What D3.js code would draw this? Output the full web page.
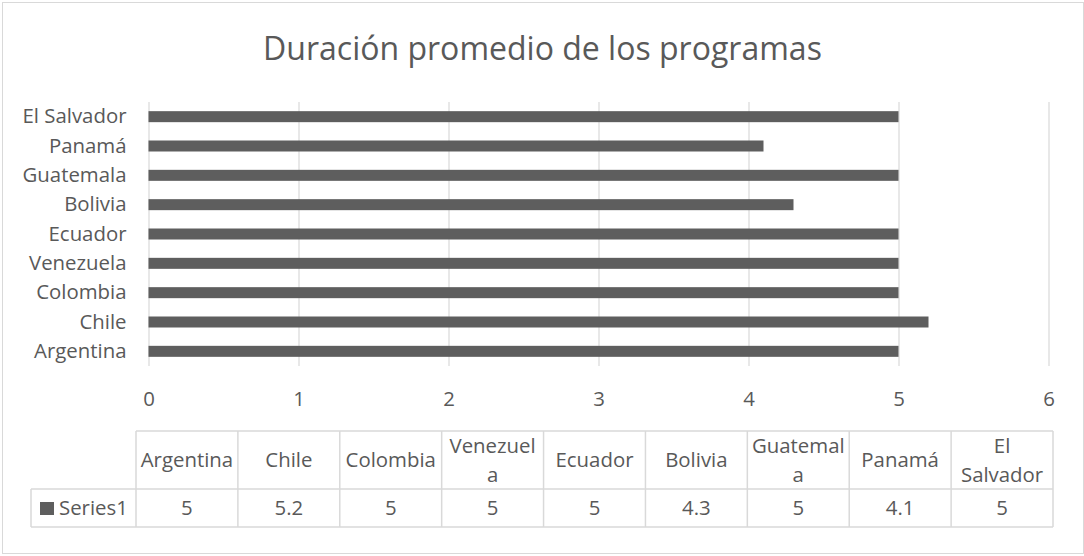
<!DOCTYPE html>
<html><head><meta charset="utf-8">
<script src="https://cdn.jsdelivr.net/npm/d3@7"></script>
<style>body{margin:0;background:#fff}</style></head><body>
<script>
const title = "Duración promedio de los programas";
const categories = ["Argentina","Chile","Colombia","Venezuela","Ecuador","Bolivia","Guatemala","Panamá","El Salvador"];
const values = [5, 5.2, 5, 5, 5, 4.3, 5, 4.1, 5];
const seriesName = "Series1";
const xTicks = [0, 1, 2, 3, 4, 5, 6];
const headerLines = [["Argentina"],["Chile"],["Colombia"],["Venezuel","a"],["Ecuador"],["Bolivia"],["Guatemal","a"],["Panamá"],["El","Salvador"]];

const W = 1084, H = 556;
const FONT = "'Open Sans', sans-serif";
const TXT = "#595959", GRID = "#d9d9d9", BAR = "#5e5e5e";

const svg = d3.select("body").append("svg").attr("width", W).attr("height", H)
  .style("font-family", FONT);

function fitFont(text, target) {
  const t = svg.append("text").style("font-size", "100px").text(text);
  const len = t.node().getComputedTextLength();
  t.remove();
  return 100 * target / len;
}
const titleFS = fitFont(title, 559);
const fs = fitFont("El Salvador", 104);

svg.append("rect").attr("x", 2.5).attr("y", 2.5).attr("width", 1081).attr("height", 551)
  .attr("fill", "#fff").attr("stroke", GRID).attr("stroke-width", 1);

svg.append("text").attr("x", 542.5).attr("y", 60).attr("text-anchor", "middle")
  .style("font-size", titleFS + "px").attr("fill", TXT).text(title);

const plotTop = 102, plotBottom = 366;
const x = d3.scaleLinear().domain([0, 6]).range([148.5, 1048.5]);
const y = d3.scaleBand().domain(categories.slice().reverse()).range([plotTop, plotBottom]);
const barH = y.bandwidth() * 0.375;

// gridlines + tick labels
const gx = svg.append("g").attr("transform", `translate(0,${plotBottom})`)
  .call(d3.axisBottom(x).tickValues(xTicks).tickSize(-(plotBottom - plotTop)).tickPadding(26).tickFormat(d3.format("d")));
gx.select(".domain").remove();
gx.selectAll(".tick line").attr("stroke", GRID).attr("stroke-width", 1.2);
gx.selectAll(".tick text").attr("fill", TXT).style("font-size", fs + "px").style("font-family", FONT);

// bars
svg.append("g").selectAll("rect").data(categories).join("rect")
  .attr("x", x(0)).attr("y", (d) => y(d) + (y.bandwidth() - barH) / 2)
  .attr("width", (d, i) => x(values[i]) - x(0)).attr("height", barH)
  .attr("fill", BAR);

// category axis
const gy = svg.append("g").attr("transform", `translate(${x(0)},0)`)
  .call(d3.axisLeft(y).tickSize(0).tickPadding(22));
gy.select(".domain").remove();
gy.selectAll(".tick text").attr("fill", TXT).style("font-size", fs + "px").style("font-family", FONT);

// data table
const tTop = 431, tMid = 489, tBot = 527, legLeft = 31;
const tx = d3.scaleBand().domain(categories).range([136, 1053]);
const tg = svg.append("g");
const line = (x1, y1, x2, y2) => tg.append("line").attr("x1", x1).attr("y1", y1).attr("x2", x2).attr("y2", y2)
  .attr("stroke", GRID).attr("stroke-width", 1.5);
line(tx.range()[0], tTop, tx.range()[1], tTop);
line(legLeft, tMid, tx.range()[1], tMid);
line(legLeft, tBot, tx.range()[1], tBot);
line(legLeft, tMid, legLeft, tBot);
categories.forEach((c) => line(tx(c), tTop, tx(c), tBot));
line(tx.range()[1], tTop, tx.range()[1], tBot);

// header texts
categories.forEach((c, i) => {
  const lines = headerLines[i];
  const cx = tx(c) + tx.bandwidth() / 2;
  const baselines = lines.length === 1 ? [467] : [453, 482];
  lines.forEach((l, j) => {
    tg.append("text").attr("x", cx).attr("y", baselines[j]).attr("text-anchor", "middle")
      .attr("fill", TXT).style("font-size", fs + "px").text(l);
  });
  tg.append("text").attr("x", cx).attr("y", 515).attr("text-anchor", "middle")
    .attr("fill", TXT).style("font-size", fs + "px").text(String(values[i]));
});
// legend key
tg.append("rect").attr("x", 40).attr("y", 502).attr("width", 14).attr("height", 13).attr("fill", BAR);
tg.append("text").attr("x", 59).attr("y", 515).attr("fill", TXT).style("font-size", fs + "px").text(seriesName);
</script>
</body></html>
